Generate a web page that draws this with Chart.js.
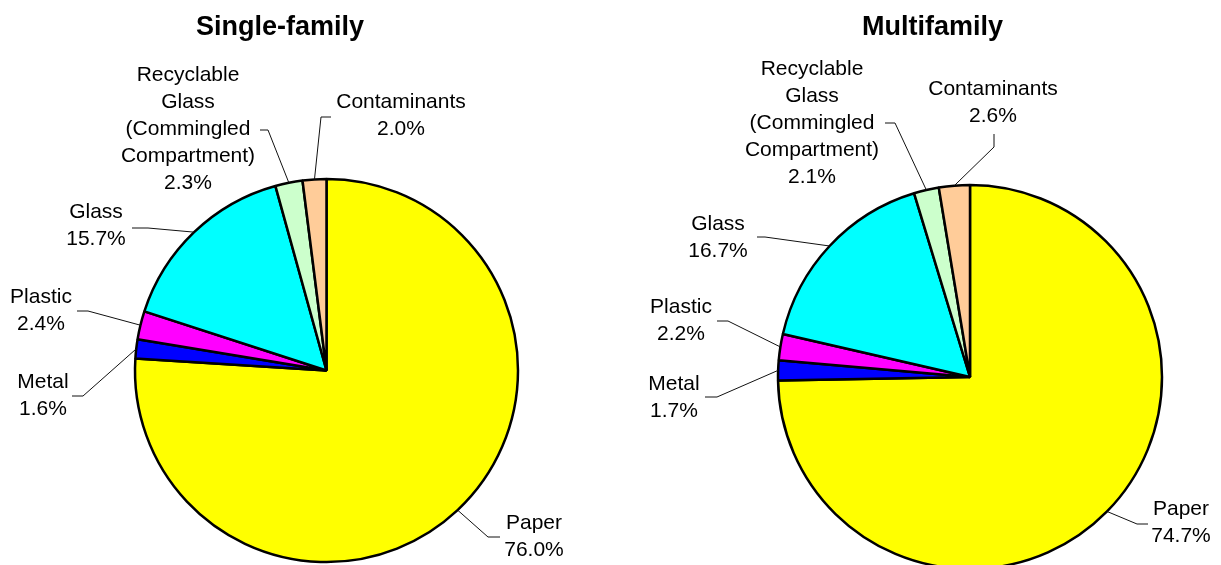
<!DOCTYPE html>
<html>
<head>
<meta charset="utf-8">
<script src="https://cdn.jsdelivr.net/npm/chart.js"></script>
<style>
  body { margin: 0; overflow: hidden; background: #fff; width: 1221px; height: 565px; position: relative; }
  .box { position: absolute; top: 0; }
</style>
</head>
<body>
<div class="box" style="left:0"><canvas id="single" width="610" height="600"></canvas></div>
<div class="box" style="left:610px"><canvas id="multi" width="611" height="600"></canvas></div>
<script>
// data
const categories = ["Paper", "Metal", "Plastic", "Glass", "Recyclable Glass (Commingled Compartment)", "Contaminants"];
const labelLines = [["Paper"], ["Metal"], ["Plastic"], ["Glass"], ["Recyclable", "Glass", "(Commingled", "Compartment)"], ["Contaminants"]];
const singleFamily = [76.0, 1.6, 2.4, 15.7, 2.3, 2.0];
const multifamily = [74.7, 1.7, 2.2, 16.7, 2.1, 2.6];
const titles = ["Single-family", "Multifamily"];

const sliceColors = ["#ffff00", "#0000ff", "#ff00ff", "#00ffff", "#ccffcc", "#ffcc99"];
const FONT = '"Liberation Sans", Arial, sans-serif';

// label placement: text centre x, first line y, leader elbow x/y, leader end x
const singleLayout = [
  { x: 534, y: 523, ex: 488, ey: 537, hx: 500 },
  { x: 43, y: 382, ex: 83, ey: 396, hx: 72 },
  { x: 41, y: 297, ex: 88, ey: 311, hx: 77 },
  { x: 96, y: 212, ex: 148, ey: 228, hx: 132 },
  { x: 188, y: 75, ex: 268, ey: 130, hx: 260 },
  { x: 401, y: 102, ex: 321, ey: 117, hx: 331 }
];
const multiLayout = [
  { x: 571, y: 509, ex: 527, ey: 524, hx: 538 },
  { x: 64, y: 384, ex: 107, ey: 397, hx: 95 },
  { x: 71, y: 307, ex: 118, ey: 321, hx: 107 },
  { x: 108, y: 224, ex: 155, ey: 237, hx: 147 },
  { x: 202, y: 69, ex: 285, ey: 123, hx: 275 },
  { x: 383, y: 89, ex: 384, ey: 147, hx: 384, vertical: true, vy: 134 }
];

const pieLabels = {
  id: "pieLabels",
  afterDraw(chart, args, opts) {
    const ctx = chart.ctx;
    const meta = chart.getDatasetMeta(0);
    const values = chart.data.datasets[0].data;
    ctx.save();
    // title
    ctx.fillStyle = "#000";
    ctx.font = "bold 27px " + FONT;
    ctx.textAlign = "center";
    ctx.textBaseline = "alphabetic";
    ctx.fillText(opts.title, opts.titleX, 35);

    ctx.font = "21px " + FONT;
    ctx.textBaseline = "middle";
    meta.data.forEach((arc, i) => {
      const p = arc.getProps(["x", "y", "startAngle", "endAngle", "outerRadius"], true);
      const mid = (p.startAngle + p.endAngle) / 2;
      const ax = p.x + Math.cos(mid) * p.outerRadius;
      const ay = p.y + Math.sin(mid) * p.outerRadius;
      const L = opts.layout[i];
      // leader line
      ctx.strokeStyle = "#111";
      ctx.lineWidth = 1;
      ctx.beginPath();
      ctx.moveTo(ax, ay);
      ctx.lineTo(L.ex, L.ey);
      if (L.vertical) ctx.lineTo(L.hx, L.vy);
      else ctx.lineTo(L.hx, L.ey);
      ctx.stroke();
      // text
      const lines = labelLines[i].concat([values[i].toFixed(1) + "%"]);
      lines.forEach((t, k) => {
        ctx.fillText(t, L.x, L.y + k * 27);
      });
    });
    ctx.restore();
  }
};

function makePie(id, values, title, titleX, layout, pad, radius) {
  new Chart(document.getElementById(id), {
    type: "pie",
    data: {
      labels: categories,
      datasets: [{
        data: values,
        backgroundColor: sliceColors,
        borderColor: "#000",
        borderWidth: 2.5
      }]
    },
    options: {
      responsive: false,
      animation: false,
      radius: radius,
      layout: { padding: pad },
      plugins: {
        legend: { display: false },
        tooltip: { enabled: false },
        pieLabels: { title: title, titleX: titleX, layout: layout }
      }
    },
    plugins: [pieLabels]
  });
}

makePie("single", singleFamily, titles[0], 280, singleLayout,
  { left: 135, right: 92, top: 179, bottom: 38 }, 191.5);
makePie("multi", multifamily, titles[1], 322.5, multiLayout,
  { left: 168, right: 59, top: 185, bottom: 31 }, 192);
</script>
</body>
</html>
